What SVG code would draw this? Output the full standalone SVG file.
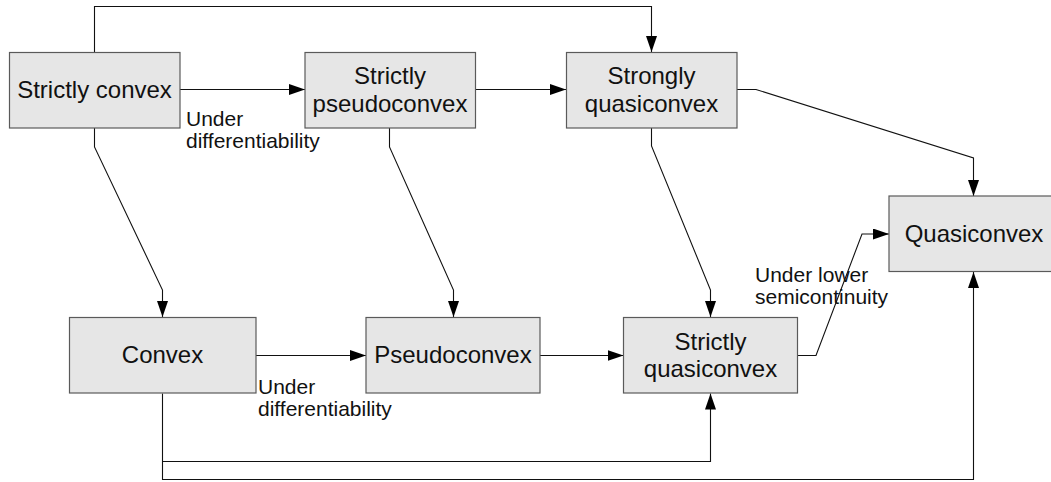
<svg xmlns="http://www.w3.org/2000/svg" width="1051" height="482" viewBox="0 0 1051 482">
<style>
.box{fill:#e6e6e6;stroke:#5a5a5a;stroke-width:1.2}
.t{font-family:"Liberation Sans",Arial,sans-serif;font-size:24px;fill:#111;text-anchor:middle}
.l{font-family:"Liberation Sans",Arial,sans-serif;font-size:21px;fill:#111}
.c{fill:none;stroke:#111;stroke-width:1.1}
</style>
<defs>
<marker id="ah" markerUnits="userSpaceOnUse" markerWidth="17" markerHeight="12" refX="16" refY="5.5" orient="auto">
<path d="M0,0 L16,5.5 L0,11 z" fill="#000"/>
</marker>
</defs>
<rect width="1051" height="482" fill="#fff"/>
<g id="connectors">
<path class="c" d="M94.5 52 V6.5 H651.5 V52" marker-end="url(#ah)"/>
<path class="c" d="M180 89.5 H305" marker-end="url(#ah)"/>
<path class="c" d="M475.5 89.5 H566" marker-end="url(#ah)"/>
<path class="c" d="M94.5 128 V147 L162.5 290 V317" marker-end="url(#ah)"/>
<path class="c" d="M389.5 128 V147 L453.5 290 V317" marker-end="url(#ah)"/>
<path class="c" d="M651.5 128 V146 L710.5 290 V317" marker-end="url(#ah)"/>
<path class="c" d="M737 89.5 H756 L973.5 158 V196" marker-end="url(#ah)"/>
<path class="c" d="M256 355.5 H366" marker-end="url(#ah)"/>
<path class="c" d="M540 355.5 H623.5" marker-end="url(#ah)"/>
<path class="c" d="M797.5 355.5 H816 L862 234 H889" marker-end="url(#ah)"/>
<path class="c" d="M162.5 393.5 V461.5 H710.5 V393.5" marker-end="url(#ah)"/>
<path class="c" d="M162.5 461.5 V479.5 H973.5 V272" marker-end="url(#ah)"/>
</g>
<g id="n_strictly_convex"><rect class="box" x="9.5" y="52.5" width="170.5" height="75.5"/><text class="t" x="94.5" y="97.5">Strictly convex</text></g>
<g id="n_strictly_pseudoconvex"><rect class="box" x="305" y="52.5" width="170.5" height="75.5"/><text class="t" x="390" y="84">Strictly</text><text class="t" x="390" y="111.5">pseudoconvex</text></g>
<g id="n_strongly_quasiconvex"><rect class="box" x="566.5" y="52.5" width="170.5" height="75.5"/><text class="t" x="651.5" y="84">Strongly</text><text class="t" x="651.5" y="111.5">quasiconvex</text></g>
<g id="n_quasiconvex"><rect class="box" x="889" y="196" width="170" height="75.5"/><text class="t" x="974" y="242">Quasiconvex</text></g>
<g id="n_convex"><rect class="box" x="69.5" y="317.5" width="186.5" height="75.5"/><text class="t" x="162.5" y="363">Convex</text></g>
<g id="n_pseudoconvex"><rect class="box" x="366" y="317.5" width="174" height="75.5"/><text class="t" x="453" y="363">Pseudoconvex</text></g>
<g id="n_strictly_quasiconvex"><rect class="box" x="623.5" y="317.5" width="174" height="75.5"/><text class="t" x="710.5" y="349.5">Strictly</text><text class="t" x="710.5" y="377">quasiconvex</text></g>
<g id="labels">
<text class="l" x="186" y="126">Under</text><text class="l" x="186" y="147.5">differentiability</text>
<text class="l" x="258" y="393.5">Under</text><text class="l" x="258" y="415.5">differentiability</text>
<text class="l" x="755" y="282">Under lower</text><text class="l" x="755" y="303.5">semicontinuity</text>
</g>
</svg>
